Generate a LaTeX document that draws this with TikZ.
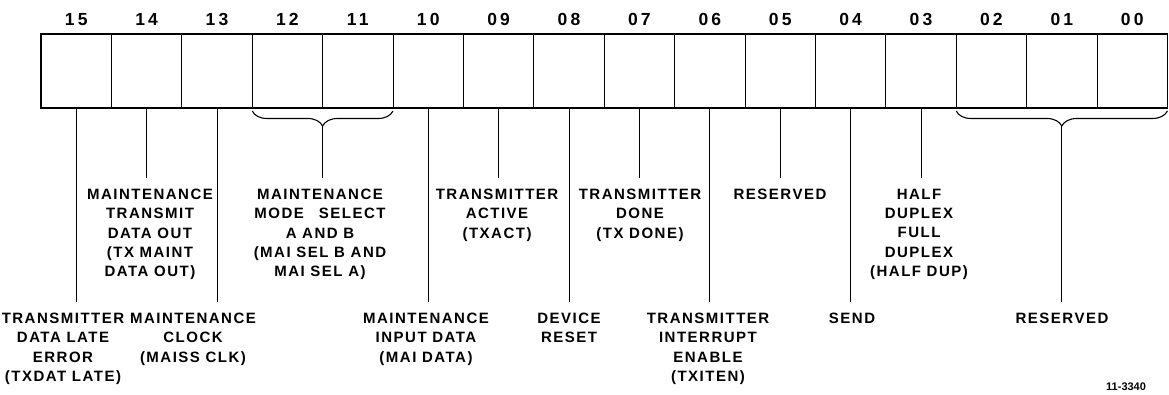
\documentclass[tikz,border=0pt]{standalone}
\usepackage{fontspec}
\setmainfont{Liberation Sans}
\usetikzlibrary{decorations.pathreplacing,calc}
\tikzset{
  cell/.style={draw,line width=1pt,minimum width=70.4pt,minimum height=74pt,inner sep=0pt,outer sep=0pt},
  bitno/.style={font=\bfseries\fontsize{17.5}{17.5}\selectfont\addfontfeatures{LetterSpace=18},inner sep=0pt},
  desc/.style={align=center,inner sep=0pt,outer sep=11pt,anchor=north,font=\bfseries\fontsize{15}{19.3}\selectfont\addfontfeatures{LetterSpace=10}},
  leader/.style={line width=1pt},
  grp/.style={line width=1.1pt,decorate,decoration={brace,mirror,amplitude=15pt}}
}
\begin{document}
\begin{tikzpicture}[x=1pt,y=-1pt,label distance=8pt]
      \useasboundingbox (0,0) rectangle (1169,395);
      % register cells, bit 15 on the left
      \draw
        (76.2,71) node[cell,label={[bitno]above:15}] (b15){}
        (146.6,71) node[cell,label={[bitno]above:14}] (b14){}
        (217.0,71) node[cell,label={[bitno]above:13}] (b13){}
        (287.4,71) node[cell,label={[bitno]above:12}] (b12){}
        (357.8,71) node[cell,label={[bitno]above:11}] (b11){}
        (428.2,71) node[cell,label={[bitno]above:10}] (b10){}
        (498.6,71) node[cell,label={[bitno]above:09}] (b09){}
        (569.0,71) node[cell,label={[bitno]above:08}] (b08){}
        (639.4,71) node[cell,label={[bitno]above:07}] (b07){}
        (709.8,71) node[cell,label={[bitno]above:06}] (b06){}
        (780.2,71) node[cell,label={[bitno]above:05}] (b05){}
        (850.6,71) node[cell,label={[bitno]above:04}] (b04){}
        (921.0,71) node[cell,label={[bitno]above:03}] (b03){}
        (991.4,71) node[cell,label={[bitno]above:02}] (b02){}
        (1061.8,71) node[cell,label={[bitno]above:01}] (b01){}
        (1132.2,71) node[cell,label={[bitno]above:00}] (b00){};
      \draw[line width=1.8pt] (b15.north west) rectangle (b00.south east);
      % field descriptions
      \draw
        (63,302) node[desc] (l15){TRANSMITTER\\DATA LATE\\ERROR\\(TXDAT LATE)}
        (150,178) node[desc] (l14){MAINTENANCE\\TRANSMIT\\DATA OUT\\(TX MAINT\\DATA OUT)}
        (193,302) node[desc] (l13){MAINTENANCE\\CLOCK\\(MAISS CLK)}
        (320,178) node[desc] (l1211){MAINTENANCE\\MODE\quad SELECT\\A AND B\\(MAI SEL B AND\\MAI SEL A)}
        (426,302) node[desc] (l10){MAINTENANCE\\INPUT DATA\\(MAI DATA)}
        (497,178) node[desc] (l09){TRANSMITTER\\ACTIVE\\(TXACT)}
        (569,302) node[desc] (l08){DEVICE\\RESET}
        (640,178) node[desc] (l07){TRANSMITTER\\DONE\\(TX DONE)}
        (708,302) node[desc] (l06){TRANSMITTER\\INTERRUPT\\ENABLE\\(TXITEN)}
        (780,178) node[desc] (l05){RESERVED}
        (852,302) node[desc] (l04){SEND}
        (919,178) node[desc] (l03){HALF\\DUPLEX\\FULL\\DUPLEX\\(HALF DUP)}
        (1062,302) node[desc] (l0200){RESERVED};
      \node[anchor=north west,inner sep=0pt,font=\bfseries\fontsize{11}{11}\selectfont] (fig) at (1106,383) {11-3340};
      % braces over grouped bits
      \draw[grp] ($(b12.south west)+(0,3)$) -- ($(b11.south east)+(0,3)$);
      \draw[grp] ($(b02.south west)+(0,3)$) -- ($(b00.south east)+(0,3)$);
      \coordinate (t1211) at ($(b12.south west)!0.5!(b11.south east)+(0,18)$);
      \coordinate (t0200) at ($(b02.south west)!0.5!(b00.south east)+(0,18)$);
      \begin{scope}[leader]
        \draw (b15.south) to (b15.south |- l15.north);
        \draw (b14.south) to (b14.south |- l14.north);
        \draw (b13.south) to (b13.south |- l13.north);
        \draw (t1211) to (t1211 |- l1211.north);
        \draw (b10.south) to (b10.south |- l10.north);
        \draw (b09.south) to (b09.south |- l09.north);
        \draw (b08.south) to (b08.south |- l08.north);
        \draw (b07.south) to (b07.south |- l07.north);
        \draw (b06.south) to (b06.south |- l06.north);
        \draw (b05.south) to (b05.south |- l05.north);
        \draw (b04.south) to (b04.south |- l04.north);
        \draw (b03.south) to (b03.south |- l03.north);
        \draw (t0200) to (t0200 |- l0200.north);
      \end{scope}
    \end{tikzpicture}
\end{document}
